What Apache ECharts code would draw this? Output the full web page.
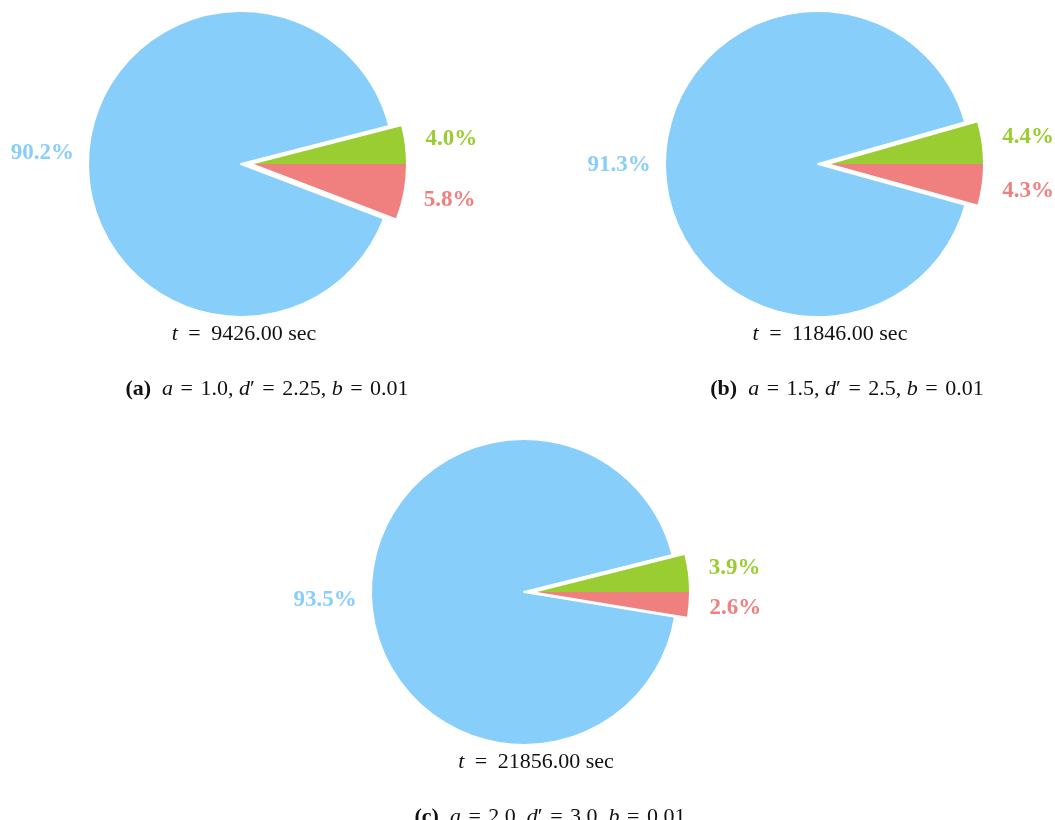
<!DOCTYPE html>
<html><head><meta charset="utf-8">
<script src="https://cdn.jsdelivr.net/npm/echarts@6/dist/echarts.min.js"></script>
<style>html,body{margin:0;padding:0;background:#fff}#c{width:1055px;height:820px}</style>
</head><body><div id="c"></div>
<script>
// ---- data ----
const sliceNames = ['Slice 1', 'Slice 2', 'Slice 3'];
const greenPct = [4.0, 4.4, 3.9];
const redPct = [5.8, 4.3, 2.6];
const bluePct = [90.2, 91.3, 93.5];
const timeLabels = ['9426.00', '11846.00', '21856.00'];
const panelTags = ['(a)', '(b)', '(c)'];
const aVals = ['1.0', '1.5', '2.0'];
const dVals = ['2.25', '2.5', '3.0'];
const bVals = ['0.01', '0.01', '0.01'];

// ---- layout / style ----
const centers = [[241, 164], [818, 164], [524, 592]];
const explodeShift = 13;
const rBlue = 153, rOut = 152;
const labelRing = [176, 216];
const timePos = [[244, 334], [830, 334], [536, 762]];
const capPos = [[267, 389], [847, 389], [550, 817]];
const COL = ['#9ACD32', '#F08080', '#87CEFA'];
const FONT = 'Liberation Serif';
const TRANSP = 'rgba(0,0,0,0)';
const TXT = '#111';

const chart = echarts.init(document.getElementById('c'), null, {renderer: 'canvas'});
const series = [];
const graphic = [];

for (let i = 0; i < 3; i++) {
  const vals = [greenPct[i], redPct[i], bluePct[i]];
  const cb = centers[i];
  const ce = [cb[0] + explodeShift, cb[1]];
  const startAngle = greenPct[i] / 100 * 360;
  const base = {
    type: 'pie', startAngle: startAngle, clockwise: true, silent: true,
    animation: false, avoidLabelOverlap: false,
    labelLine: {show: false}
  };
  const mk = (shownIdx, withBorder) => vals.map((v, k) => ({
    value: v, name: sliceNames[k],
    itemStyle: shownIdx.includes(k)
      ? Object.assign({color: COL[k]}, withBorder ? {borderColor: '#fff', borderWidth: 2} : {borderWidth: 0})
      : {color: TRANSP, borderWidth: 0}
  }));
  // main (blue) body
  series.push(Object.assign({}, base, {
    center: cb, radius: rBlue, label: {show: false}, data: mk([2], true)
  }));
  // exploded green + red
  series.push(Object.assign({}, base, {
    center: ce, radius: rOut, label: {show: false}, data: mk([0, 1], false)
  }));
  // label rings
  const lab = (shownIdx, c) => Object.assign({}, base, {
    center: c, radius: labelRing,
    data: vals.map((v, k) => ({
      value: v, name: sliceNames[k],
      itemStyle: {color: TRANSP, borderWidth: 0},
      label: {
        show: shownIdx.includes(k), position: 'inside',
        formatter: p => p.value.toFixed(1) + '%',
        color: COL[k], fontFamily: FONT, fontWeight: 'bold', fontSize: 23
      }
    }))
  });
  series.push(lab([2], cb));
  series.push(lab([0, 1], ce));

  const richBase = {
    i: {fontStyle: 'italic', fontFamily: FONT, fontSize: 22, fill: TXT},
    b: {fontWeight: 'bold', fontFamily: FONT, fontSize: 22, fill: TXT}
  };
  graphic.push({
    type: 'text', x: timePos[i][0], y: timePos[i][1], silent: true,
    style: {
      text: '{i|t} {e|=} ' + timeLabels[i] + ' sec',
      fontFamily: FONT, fontSize: 22, fill: TXT,
      align: 'center', verticalAlign: 'middle',
      rich: Object.assign({e: {fontFamily: FONT, fontSize: 22, fill: TXT, padding: [0, 5]}}, richBase)
    }
  });
  graphic.push({
    type: 'text', x: capPos[i][0], y: capPos[i][1], silent: true,
    style: {
      text: '{b|' + panelTags[i] + '}  {i|a} {e|=} ' + aVals[i] + ', {i|d}\u2032 {e|=} ' + dVals[i] + ', {i|b} {e|=} ' + bVals[i],
      fontFamily: FONT, fontSize: 22, fill: TXT,
      align: 'center', verticalAlign: 'middle',
      rich: Object.assign({e: {fontFamily: FONT, fontSize: 22, fill: TXT, padding: [0, 2]}}, richBase)
    }
  });
}

chart.setOption({
  backgroundColor: '#fff',
  animation: false,
  series: series,
  graphic: graphic
});
</script>
</body></html>
